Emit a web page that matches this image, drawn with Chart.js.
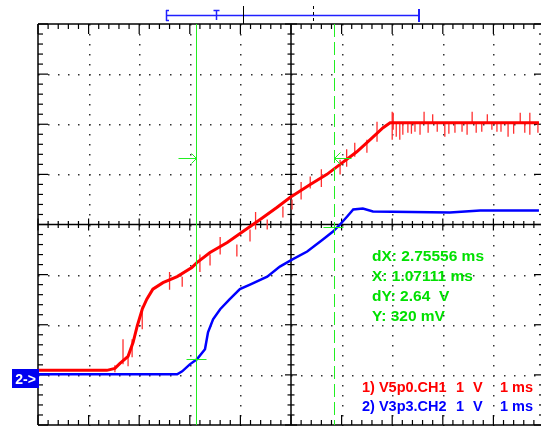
<!DOCTYPE html>
<html>
<head>
<meta charset="utf-8">
<script src="https://cdn.jsdelivr.net/npm/chart.js@4.4.1/dist/chart.umd.min.js"></script>
<style>
    body { margin: 0; background: #fff; }
    #wrap { width: 541px; height: 426px; overflow: hidden; }
</style>
</head>
<body>
<div id="wrap"><canvas id="scope" width="548" height="426"></canvas></div>
<script>
// ── Data: time in ms (1 ms/div), volts at 1 V/div from screen centre ──

const ch1Time = [0, 1.36, 1.52, 1.62, 1.78, 1.88, 1.96, 2.06, 2.15, 2.27, 2.47, 2.75, 3.04, 3.14, 3.40,
    3.74, 4.05, 4.39, 4.72, 4.98, 5.38, 5.71, 5.97, 6.30, 6.56, 6.82, 6.96, 9.90];
const ch1Volt = [-2.91, -2.91, -2.87, -2.77, -2.63, -2.35, -2.03, -1.69, -1.49, -1.29, -1.16, -1.04, -0.86, -0.76, -0.56,
    -0.36, -0.14, 0.10, 0.34, 0.54, 0.80, 1.00, 1.20, 1.45, 1.69, 1.93, 2.03, 2.03];

const ch2Time = [0, 2.75, 2.85, 3.00, 3.14, 3.30, 3.36, 3.46, 3.60, 3.79, 3.99, 4.19, 4.53, 4.78, 5.02,
    5.32, 5.63, 5.83, 5.97, 6.11, 6.23, 6.42, 6.62, 8.14, 8.74, 9.90];
const ch2Volt = [-2.99, -2.99, -2.93, -2.79, -2.69, -2.49, -2.15, -1.89, -1.69, -1.49, -1.29, -1.20, -1.04, -0.84, -0.70,
    -0.54, -0.30, -0.14, 0.00, 0.16, 0.30, 0.32, 0.26, 0.24, 0.28, 0.28];

// noise spikes on channel 1
const spikeTime = [1.52, 1.68, 1.78, 1.86, 2.06, 2.60, 2.85, 3.20, 3.40, 3.60, 3.93, 4.19, 4.30, 4.53, 4.84, 5.02,
    5.20, 5.38, 5.60, 5.97, 6.10, 6.26, 6.50, 6.70,
    7.00, 7.02, 7.08, 7.15, 7.21, 7.31, 7.38, 7.45, 7.55, 7.63, 7.71, 7.80, 7.89, 8.04, 8.12, 8.24, 8.38, 8.48,
    8.58, 8.66, 8.77, 8.88, 8.97, 9.07, 9.15, 9.29, 9.40, 9.53, 9.62, 9.72, 9.88];
const spikeLow = [-2.95, -2.79, -2.83, -2.65, -2.09, -1.30, -1.24, -0.95, -0.82, -0.60, -0.64, -0.34, -0.10, -0.10,
    0.14, 0.30, 0.50, 0.72, 0.75, 1.00, 1.15, 1.35, 1.43, 1.65,
    1.69, 1.89, 1.75, 1.69, 1.79, 1.83, 1.81, 1.85, 1.79, 2.03, 1.83, 2.03, 1.85, 1.75, 1.81, 1.83, 1.85, 1.79,
    2.03, 1.83, 1.85, 2.03, 1.89, 1.85, 1.85, 1.75, 1.81, 2.03, 1.83, 1.79, 1.83];
const spikeHigh = [-2.81, -2.29, -2.59, -2.29, -1.63, -0.95, -1.04, -0.60, -0.60, -0.25, -0.40, -0.10, 0.25, 0.10,
    0.36, 0.50, 0.85, 0.96, 1.10, 1.29, 1.50, 1.63, 1.69, 2.05,
    2.25, 2.23, 2.03, 2.03, 2.03, 2.03, 2.03, 2.03, 2.03, 2.25, 2.03, 2.20, 2.03, 2.03, 2.03, 2.03, 2.03, 2.03,
    2.25, 2.03, 2.03, 2.20, 2.03, 2.03, 2.03, 2.03, 2.03, 2.23, 2.03, 2.23, 2.03];

const xDivs = [0, 1, 2, 3, 4, 5, 6, 7, 8, 9, 10];
const yDivs = [-4, -3, -2, -1, 0, 1, 2, 3, 4];

const cursorTime = [3.12, 5.856];
const cursorMarkVolt = [1.33, -2.69, -0.04];

const readout = ['dX: 2.75556 ms', 'X: 1.07111 ms', 'dY: 2.64  V', 'Y: 320 mV'];
const channelNames = ['1) V5p0.CH1', '2) V3p3.CH2'];
const voltsPerDiv = ['1', '1'];
const timePerDiv = ['1 ms', '1 ms'];
const channelColors = ['#ff0000', '#0000ff'];

// ── Helpers ─────────────────────────────────────────────────────

function pts(xs, ys) {
    return xs.map((t, i) => ({ x: t, y: ys[i] }));
}

function spikePts() {
    const out = [];
    spikeTime.forEach((t, i) => {
        out.push({ x: t, y: spikeLow[i] }, { x: t, y: spikeHigh[i] }, { x: t, y: null });
    });
    return out;
}

function seg(ctx, x1, y1, x2, y2) {
    ctx.beginPath();
    ctx.moveTo(x1, y1);
    ctx.lineTo(x2, y2);
    ctx.stroke();
}

// ── Graticule (drawn under the traces) ──────────────────────────

const graticule = {
    id: 'graticule',
    beforeDatasetsDraw(chart) {
        const { ctx, chartArea: a, scales: { x, y } } = chart;
        ctx.save();
        ctx.fillStyle = '#333';
        for (let i = 0; i < 41; i++) {
            const v = -4 + i * 0.2;
            const py = Math.round(y.getPixelForValue(v));
            xDivs.forEach(t => {
                if (t === 0 || t === 5 || t === 10) return;
                ctx.fillRect(Math.round(x.getPixelForValue(t)), py, 1.5, 1.5);
            });
        }
        for (let i = 0; i < 51; i++) {
            const px = Math.round(x.getPixelForValue(i * 0.2));
            yDivs.forEach(v => {
                if (v === 0 || Math.abs(v) === 4) return;
                ctx.fillRect(px, Math.round(y.getPixelForValue(v)), 1.5, 1.5);
            });
        }

        ctx.strokeStyle = '#000';
        ctx.lineWidth = 1.5;
        const cx = x.getPixelForValue(5);
        const cy = y.getPixelForValue(0);
        seg(ctx, a.left, cy, a.right, cy);
        seg(ctx, cx, a.top, cx, a.bottom);
        // border
        seg(ctx, a.left, a.top, a.right, a.top);
        seg(ctx, a.left, a.top, a.left, a.bottom);
        seg(ctx, a.left, a.bottom, a.right, a.bottom);
        seg(ctx, a.right, a.top, a.right, a.bottom);

        ctx.lineWidth = 1.2;
        for (let i = 0; i <= 50; i++) {
            const px = x.getPixelForValue(i * 0.2);
            const major = i % 5 === 0;
            const c = major ? 6 : 3.5;
            seg(ctx, px, cy - c, px, cy + c);
            const b = major ? 10 : 5;
            seg(ctx, px, a.top, px, a.top + b);
            seg(ctx, px, a.bottom, px, a.bottom - b);
        }
        for (let i = 0; i <= 40; i++) {
            const py = y.getPixelForValue(-4 + i * 0.2);
            const major = i % 5 === 0;
            const c = major ? 6 : 3.5;
            seg(ctx, cx - c, py, cx + c, py);
            const b = major ? 10 : 5;
            seg(ctx, a.left, py, a.left + b, py);
            seg(ctx, a.right, py, a.right - b, py);
        }
        ctx.restore();
    },
};

// ── Cursors and readouts (drawn over the traces) ────────────────

const cursors = {
    id: 'cursors',
    afterDatasetsDraw(chart) {
        const { ctx, chartArea: a, scales: { x, y } } = chart;
        const x1 = Math.round(x.getPixelForValue(cursorTime[0])) + 0.5;
        const x2 = Math.round(x.getPixelForValue(cursorTime[1])) + 0.5;
        ctx.save();
        ctx.strokeStyle = '#22ee22';
        ctx.lineWidth = 1;
        seg(ctx, x1, a.top, x1, a.bottom);
        ctx.setLineDash([13, 5]);
        seg(ctx, x2, a.top, x2, a.bottom);
        ctx.setLineDash([]);

        const yA = Math.round(y.getPixelForValue(cursorMarkVolt[0])) + 0.5;
        const yB = Math.round(y.getPixelForValue(cursorMarkVolt[1])) + 0.5;
        const yC = Math.round(y.getPixelForValue(cursorMarkVolt[2])) + 0.5;
        // arrow into solid cursor
        seg(ctx, x1 - 18, yA, x1, yA);
        seg(ctx, x1 - 5, yA - 5, x1, yA);
        seg(ctx, x1 - 5, yA + 5, x1, yA);
        // arrow into dashed cursor
        seg(ctx, x2, yA, x2 + 17, yA);
        seg(ctx, x2 + 6, yA - 6, x2, yA);
        seg(ctx, x2 + 6, yA + 6, x2, yA);
        // crosshairs on channel 2
        seg(ctx, x1 - 10, yB, x1 + 10, yB);
        seg(ctx, x2 - 11, yC, x2 + 9, yC);
        ctx.restore();
    },
    afterDraw(chart) {
        const { ctx, scales: { x } } = chart;
        ctx.save();

        // record bar above the screen
        ctx.strokeStyle = '#2020ff';
        ctx.lineWidth = 1.5;
        const bl = Math.round(x.getPixelForValue(2.53));
        const br = Math.round(x.getPixelForValue(7.53));
        seg(ctx, bl, 15.5, br, 15.5);
        seg(ctx, bl + 0.5, 10, bl + 0.5, 21);
        seg(ctx, bl, 10.5, bl + 3, 10.5);
        seg(ctx, bl, 20.5, bl + 3, 20.5);
        ctx.lineWidth = 2;
        seg(ctx, br, 9, br, 22);
        ctx.lineWidth = 1.5;
        const bt = Math.round(x.getPixelForValue(3.52)) + 0.5;
        seg(ctx, bt, 10, bt, 20);
        seg(ctx, bt - 3, 10.5, bt + 3, 10.5);
        ctx.strokeStyle = '#000';
        ctx.lineWidth = 1;
        const bm = Math.round(x.getPixelForValue(4.05)) + 0.5;
        seg(ctx, bm, 6, bm, 24);
        const bd = Math.round(x.getPixelForValue(5.43)) + 0.5;
        ctx.setLineDash([3, 3]);
        seg(ctx, bd, 6, bd, 23);
        ctx.setLineDash([]);

        // ground marker for channel 2
        ctx.fillStyle = '#0000f0';
        ctx.fillRect(12, 369, 27, 19);
        ctx.fillStyle = '#fff';
        ctx.font = "bold 14px 'Liberation Sans', Arial, sans-serif";
        ctx.textAlign = 'center';
        ctx.textBaseline = 'alphabetic';
        ctx.fillText('2->', 25.5, 384);

        // cursor readout
        ctx.textAlign = 'left';
        ctx.fillStyle = '#00e000';
        ctx.font = "bold 15.5px 'Liberation Sans', Arial, sans-serif";
        readout.forEach((s, i) => ctx.fillText(s, 372, 261 + i * 20));

        // channel legend
        ctx.font = "bold 14.5px 'Liberation Sans', Arial, sans-serif";
        channelNames.forEach((s, i) => {
            const by = 392 + i * 19;
            ctx.fillStyle = channelColors[i];
            ctx.fillText(s, 362, by);
            ctx.fillText(voltsPerDiv[i], 456, by);
            ctx.fillText('V', 473, by);
            ctx.fillText(timePerDiv[i], 500, by);
        });
        ctx.restore();
    },
};

// ── Chart ───────────────────────────────────────────────────────

new Chart(document.getElementById('scope'), {
    type: 'line',
    data: {
        datasets: [
            {
                label: 'V3p3.CH2',
                data: pts(ch2Time, ch2Volt),
                borderColor: '#0000ff',
                borderWidth: 2.5,
                pointRadius: 0,
                order: 0,
            },
            {
                label: 'V5p0.CH1',
                data: pts(ch1Time, ch1Volt),
                borderColor: '#ff0000',
                borderWidth: 3,
                pointRadius: 0,
                order: 1,
            },
            {
                label: 'CH1 noise',
                data: spikePts(),
                borderColor: '#ff3030',
                borderWidth: 1.3,
                pointRadius: 0,
                spanGaps: false,
                order: 2,
            },
        ],
    },
    options: {
        responsive: false,
        animation: false,
        parsing: true,
        layout: { padding: { left: 38, top: 24, right: 4, bottom: 1 } },
        plugins: { legend: { display: false }, tooltip: { enabled: false } },
        scales: {
            x: { type: 'linear', min: 0, max: 10, display: false },
            y: { type: 'linear', min: -4, max: 4, display: false },
        },
    },
    plugins: [graticule, cursors],
});
</script>
</body>
</html>
